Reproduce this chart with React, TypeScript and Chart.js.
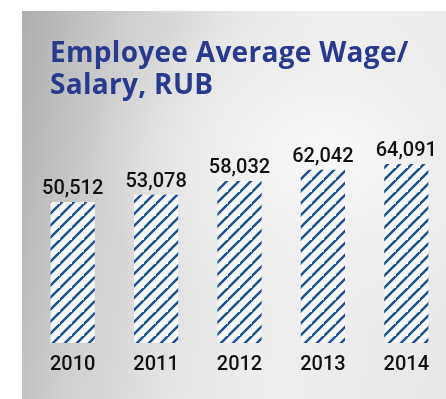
import React, { useEffect, useRef } from "react";
import { Chart, registerables } from "chart.js";

Chart.register(...registerables);

const titleLines = ["Employee Average Wage/", "Salary, RUB"];
const years = ["2010", "2011", "2012", "2013", "2014"];
const wages = [50512, 53078, 58032, 62042, 64091];

function makePattern(ctx: CanvasRenderingContext2D): CanvasPattern | string {
  const s = 12;
  const c = document.createElement("canvas");
  c.width = s;
  c.height = s;
  const p = c.getContext("2d");
  if (!p) return "#1a5296";
  p.fillStyle = "#f6f6f6";
  p.fillRect(0, 0, s, s);
  p.strokeStyle = "#1a5296";
  p.lineWidth = 2.4;
  p.lineCap = "square";
  p.beginPath();
  p.moveTo(-1, s + 1);
  p.lineTo(s + 1, -1);
  p.moveTo(-s - 1, s + 1);
  p.lineTo(1, -1);
  p.moveTo(s - 1, 2 * s + 1);
  p.lineTo(2 * s + 1, s - 1);
  p.stroke();
  return ctx.createPattern(c, "repeat") || "#1a5296";
}

const valueLabels = {
  id: "valueLabels",
  afterDatasetsDraw(chart: any) {
    const ctx = chart.ctx;
    const meta = chart.getDatasetMeta(0);
    ctx.save();
    ctx.font = "500 20px Roboto";
    ctx.fillStyle = "#111111";
    ctx.textAlign = "center";
    ctx.textBaseline = "alphabetic";
    meta.data.forEach((bar: any, i: number) => {
      const v = chart.data.datasets[0].data[i] as number;
      ctx.fillText(v.toLocaleString("en-US"), bar.x, bar.y - 8);
    });
    ctx.restore();
  },
};

export default function App() {
  const ref = useRef<HTMLCanvasElement>(null);
  useEffect(() => {
    const canvas = ref.current;
    if (!canvas) return;
    const ctx = canvas.getContext("2d")!;
    const pattern = makePattern(ctx);
    const chart = new Chart(canvas, {
      type: "bar",
      data: {
        labels: years,
        datasets: [
          {
            data: wages,
            backgroundColor: pattern as any,
            borderWidth: 0,
            barPercentage: 0.53,
            categoryPercentage: 1,
          },
        ],
      },
      options: {
        responsive: false,
        animation: false,
        devicePixelRatio: 1,
        layout: { padding: { left: 31, right: 22, top: 100, bottom: 12 } },
        plugins: {
          legend: { display: false },
          title: { display: false },
          tooltip: { enabled: false },
        },
        scales: {
          x: {
            grid: { display: false, drawTicks: false },
            border: { display: false },
            ticks: {
              padding: 10,
              color: "#111111",
              font: { family: "Roboto", size: 20, weight: "500" as any },
            },
          },
          y: {
            display: false,
            min: 0,
            max: 87000,
          },
        },
      },
      plugins: [valueLabels],
    });
    return () => chart.destroy();
  }, []);

  return (
    <div
      style={{
        position: "fixed",
        left: 0,
        top: 0,
        width: 446,
        height: 399,
        overflow: "hidden",
        background: "#ffffff",
      }}
    >
      <div
        style={{
          position: "absolute",
          left: 22,
          top: 11,
          right: 0,
          bottom: 0,
          background:
            "radial-gradient(ellipse 55% 45% at 72% 38%, rgba(248,248,248,1) 0%, rgba(240,240,240,0.8) 45%, rgba(236,236,236,0) 100%), linear-gradient(100deg, #aeaeae 0%, #cfcfcf 22%, #e6e6e6 45%, #eeeeee 65%, #e8e8e8 100%)",
        }}
      />
      <canvas
        ref={ref}
        width={470}
        height={399}
        style={{ position: "absolute", left: 0, top: 0, width: 470, height: 399 }}
      />
      <div
        style={{
          position: "absolute",
          left: 50,
          top: 35,
          fontFamily: "'Open Sans'",
          fontWeight: 700,
          fontSize: 28,
          letterSpacing: "0.3px",
          lineHeight: "32px",
          color: "#293a8e",
          whiteSpace: "nowrap",
        }}
      >
        {titleLines.map((l) => (
          <div key={l}>{l}</div>
        ))}
      </div>
    </div>
  );
}
